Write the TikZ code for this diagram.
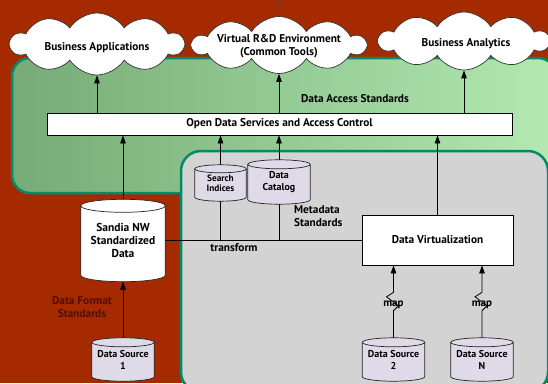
\documentclass[tikz,border=0pt]{standalone}
\usepackage{fontspec}
\setmainfont{PT Sans}
\usetikzlibrary{shapes.symbols,arrows.meta,calc}
\definecolor{bgred}{RGB}{166,42,0}
\definecolor{regiongray}{RGB}{211,211,211}
\definecolor{tealb}{RGB}{0,140,105}
\definecolor{cylfill}{RGB}{222,218,232}
\definecolor{greenA}{RGB}{118,170,118}
\definecolor{greenB}{RGB}{178,234,178}
\definecolor{maroontext}{RGB}{85,14,0}
\pgfdeclarelayer{back}
\pgfdeclarelayer{mid}
\pgfdeclarelayer{cyls}
\pgfsetlayers{back,mid,cyls,main}
\newcommand{\drawcyl}[3]{%
  \begin{pgfonlayer}{cyls}
  \path[draw=black!85, line width=0.7pt, fill=#3] let \p1=(#1.north west), \p2=(#1.south east), \n1={(\x2-\x1)/2} in
    (\x1,\y1-#2) -- (\x1,\y2+#2) arc[start angle=180, end angle=360, x radius=\n1, y radius=#2]
    -- (\x2,\y1-#2) arc[start angle=0, end angle=180, x radius=\n1, y radius=#2] -- cycle;
  \path[draw=black!85, line width=0.7pt] let \p1=(#1.north west), \p2=(#1.south east), \n1={(\x2-\x1)/2} in
    (\x1,\y1-#2) arc[start angle=180, end angle=360, x radius=\n1, y radius=#2];
  \end{pgfonlayer}}
\tikzset{
  lbl/.style={font=\fontsize{11.3}{13}\selectfont\bfseries, align=center, inner sep=0pt},
  smalllbl/.style={font=\fontsize{10}{12}\selectfont\bfseries, align=center, inner sep=0pt},
  cloudnode/.style={cloud, cloud puffs=10, cloud puff arc=115, cloud ignores aspect, draw=black!80, line width=0.7pt, fill=white, inner sep=0pt},
  cylbox/.style={rectangle, draw=none, inner sep=0pt},
  boxnode/.style={rectangle, draw=black, line width=0.8pt, fill=white, inner sep=0pt},
  arr/.style={draw=black, line width=0.8pt, -{Triangle[width=5.5pt,length=8pt]}},
  plain/.style={draw=black, line width=0.8pt},
}
\begin{document}
\begin{tikzpicture}[x=1pt,y=-1pt]
\useasboundingbox (0,0) rectangle (548,383);
\begin{pgfonlayer}{back}
  \fill[bgred] (0,0) rectangle (548,383);
  \path[draw=tealb, line width=2.5pt, rounded corners=18pt, left color=greenA, right color=greenB] (12,58) rectangle (556,193);
  \path[draw=tealb, line width=2.5pt, rounded corners=20pt, fill=regiongray] (181,151) rectangle (548,392);
  \draw[black!70, line width=0.6pt] (97,3) -- (97,7);
  \draw[black!70, line width=0.6pt] (280,3) -- (280,7);
  \draw[black!70, line width=0.6pt] (465,3) -- (465,7);
\end{pgfonlayer}

% clouds
\node[cloudnode, minimum width=173pt, minimum height=62pt] (ba) at (97,44) {};
\node[lbl] at (97,48) {Business Applications};
\node[cloudnode, minimum width=173pt, minimum height=57pt] (vrd) at (279,45) {};
\node[lbl] at (279,46.5) {Virtual R\&D Environment\\(Common Tools)};
\node[cloudnode, minimum width=170pt, minimum height=58pt] (ban) at (464,41) {};
\node[lbl] at (466,44) {Business Analytics};

% boxes
\node[boxnode, minimum width=465pt, minimum height=22pt, lbl] (open) at (279.5,124) {Open Data Services and Access Control};
\node[boxnode, minimum width=151pt, minimum height=50pt, lbl] (dv) at (437.5,240) {Data Virtualization};

% cylinders
\node[cylbox, minimum width=84pt, minimum height=82pt, lbl, font=\fontsize{11.5}{13.2}\selectfont\bfseries] (sandia) at (123,240.5) {Sandia NW\\Standardized\\Data};
\drawcyl{sandia}{6.5pt}{white}
\node[cylbox, minimum width=51pt, minimum height=36pt, smalllbl, font=\fontsize{9.3}{10.5}\selectfont\bfseries] (si) at (220.5,183) {Search\\Indices};
\drawcyl{si}{4pt}{cylfill}
\node[cylbox, minimum width=62pt, minimum height=44pt, smalllbl] (dc) at (279,182) {Data\\Catalog};
\drawcyl{dc}{4.5pt}{cylfill}
\node[cylbox, minimum width=62pt, minimum height=43pt, smalllbl] (ds1) at (123,359.5) {Data Source\\1};
\drawcyl{ds1}{4.5pt}{cylfill}
\node[cylbox, minimum width=62pt, minimum height=43pt, smalllbl] (ds2) at (393.5,359.5) {Data Source\\2};
\drawcyl{ds2}{4.5pt}{cylfill}
\node[cylbox, minimum width=62pt, minimum height=43pt, smalllbl] (dsn) at (482,359.5) {Data Source\\N};
\drawcyl{dsn}{4.5pt}{cylfill}

% labels
\node[lbl] at (355,99) {Data Access Standards};
\node[lbl] at (234,248) {transform};
\node[lbl, align=left, anchor=west] at (294,216.5) {Metadata\\Standards};
\node[lbl, text=maroontext] at (82,307) {Data Format\\Standards};

% connectors
\begin{pgfonlayer}{mid}
  \draw[arr] (open.north -| ba.south) -- (ba.south);
  \draw[arr] (open.north -| vrd.south) -- (vrd.south);
  \draw[arr] (open.north -| ban.south) -- (ban.south);
  \draw[arr] (sandia.north) -- (sandia.north |- open.south);
  \draw[plain] (sandia.east |- dv.west) -- (dv.west);
  \draw[arr] (si.center |- dv.west) -- (si.center |- open.south);
  \draw[arr] (dc.center |- dv.west) -- (dc.center |- open.south);
  \draw[arr] (dv.north) -- (dv.north |- open.south);
  \draw[arr] (ds1.north) -- (sandia.south);
  \draw[arr] (ds2.north) -- ++(0,-27) -- ++(5,-5) -- ++(-12,-9) -- ++(7,-4.5) -- (ds2.north |- dv.south);
  \draw[arr] (dsn.north) -- ++(0,-27) -- ++(5,-5) -- ++(-12,-9) -- ++(7,-4.5) -- (dsn.north |- dv.south);
\end{pgfonlayer}
\node[smalllbl, font=\fontsize{11}{13}\selectfont\bfseries] (map2) at (393.5,305) {map};
\node[smalllbl, font=\fontsize{11}{13}\selectfont\bfseries] (mapn) at (482,305) {map};
\end{tikzpicture}
\end{document}
